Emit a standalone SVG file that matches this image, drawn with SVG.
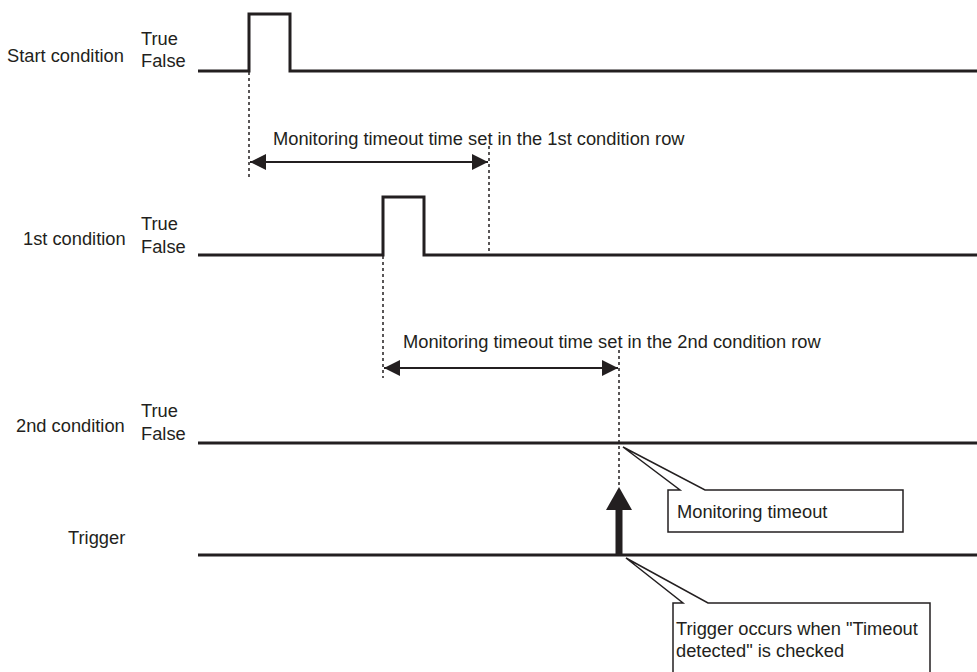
<svg xmlns="http://www.w3.org/2000/svg" width="977" height="672" viewBox="0 0 977 672">
  <defs>
    <marker id="ah" viewBox="0 0 16 16" refX="16" refY="8" markerWidth="16" markerHeight="16" markerUnits="userSpaceOnUse" orient="auto-start-reverse">
      <path d="M0,0 L16,8 L0,16 Z" fill="#231f20"/>
    </marker>
  </defs>
  <style>
    text { font-family: "Liberation Sans", Arial, sans-serif; font-size: 18.3px; fill: #231f20; }
    .sig { fill: none; stroke: #231f20; stroke-width: 3; stroke-linejoin: miter; }
    .dot { fill: none; stroke: #231f20; stroke-width: 1.5; stroke-dasharray: 3 3; }
    .dim { fill: none; stroke: #231f20; stroke-width: 2; }
    .callout { fill: #ffffff; stroke: #231f20; stroke-width: 1.5; stroke-linejoin: miter; }
  </style>
  <rect width="977" height="672" fill="#ffffff"/>

  <!-- signal rows -->
  <g id="start-condition">
    <text x="7" y="62">Start condition</text>
    <text x="141" y="45">True</text>
    <text x="141" y="67">False</text>
    <path class="sig" d="M198,71 H249 V14 H290 V71 H977"/>
  </g>
  <g id="first-condition">
    <text x="23" y="245">1st condition</text>
    <text x="141" y="230">True</text>
    <text x="141" y="253">False</text>
    <path class="sig" d="M198,255 H383 V197 H424 V255 H977"/>
  </g>
  <g id="second-condition">
    <text x="16" y="432">2nd condition</text>
    <text x="141" y="417">True</text>
    <text x="141" y="440">False</text>
    <path class="sig" d="M198,443 H977"/>
  </g>
  <g id="trigger">
    <text x="68" y="544">Trigger</text>
    <path class="sig" d="M198,555 H977"/>
    <rect x="615.5" y="508" width="7" height="48" fill="#231f20"/>
    <path d="M606,510 L619,487 L632,510 Z" fill="#231f20"/>
  </g>

  <!-- timing guides and dimension arrows -->
  <g id="connectors">
    <path class="dot" d="M249,72 V178"/>
    <path class="dot" d="M489,146 V254"/>
    <path class="dim" d="M250,162 H488" marker-start="url(#ah)" marker-end="url(#ah)"/>
    <path class="dot" d="M383,256 V378"/>
    <path class="dot" d="M619,350 V488"/>
    <path class="dim" d="M384,368 H618" marker-start="url(#ah)" marker-end="url(#ah)"/>
  </g>

  <g id="label-timeout-1">
    <text x="273" y="145">Monitoring timeout time set in the 1st condition row</text>
  </g>
  <g id="label-timeout-2">
    <text x="403" y="348">Monitoring timeout time set in the 2nd condition row</text>
  </g>

  <!-- callouts -->
  <g id="callout-timeout">
    <path class="callout" d="M668,490 H680 L623,447 L705,490 H903 V532 H668 Z"/>
    <text x="677" y="518">Monitoring timeout</text>
  </g>
  <g id="callout-trigger">
    <path class="callout" d="M673,603 H683 L626,558 L708,603 H930 V690 H673 Z"/>
    <text x="676" y="635">Trigger occurs when "Timeout</text>
    <text x="676" y="657">detected" is checked</text>
  </g>
</svg>
